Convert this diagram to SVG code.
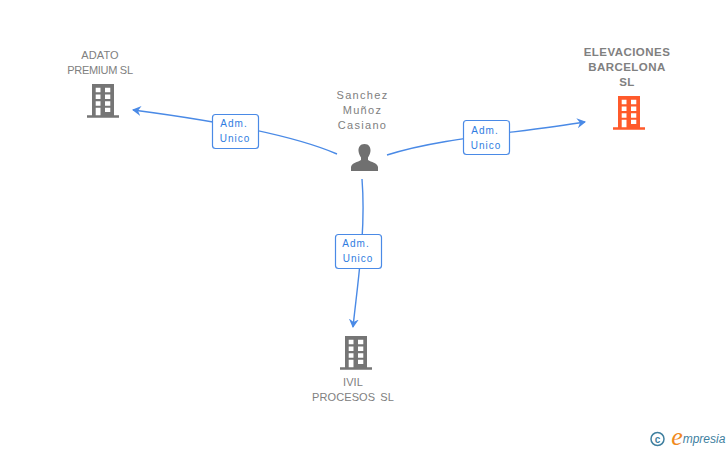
<svg xmlns="http://www.w3.org/2000/svg" width="728" height="450" viewBox="0 0 728 450">
<style>
text{font-family:"Liberation Sans",Arial,sans-serif;text-anchor:middle}
.n{font-size:11px;fill:#808080;letter-spacing:.1px}
.p{font-size:11px;fill:#808080;letter-spacing:1.3px}
.o{font-size:11.500px;font-weight:bold;fill:#808080;letter-spacing:.45px}
.e{font-size:10px;fill:#2f7de1;letter-spacing:1px}
.c{fill:none;stroke:#4a8ae6;stroke-width:1.400}
.b{fill:#fff;stroke:#4a8ae6;stroke-width:1.200}
</style>
<defs>
<marker id="a" markerWidth="12" markerHeight="12" refX="8" refY="5" orient="auto" markerUnits="userSpaceOnUse"><path d="M0 0L9 5L0 10L3 5Z" fill="#4a8ae6"/></marker>
<symbol id="bld" width="34" height="36" viewBox="0 0 34 36" overflow="visible">
<path fill-rule="evenodd" d="M5 0H27V31.300H32V33.700H0V31.300H5ZM8.700 3.700V8.300H13.500V3.700ZM18 3.700V8.300H23.300V3.700ZM8.700 10.500V15H13.500V10.500ZM18 10.500V15H23.300V10.500ZM8.700 17.300V21.700H13.500V17.300ZM18 17.300V21.700H23.300V17.300ZM8.700 23.700V31.300H13.500V23.700ZM18 23.700V28H23.300V23.700Z"/>
</symbol>
</defs>
<g id="connectors">
<path class="c" marker-end="url(#a)" d="M337 154C300 138 240 124 133 110"/>
<path class="c" marker-end="url(#a)" d="M387 155C440 138 510 134 585 122"/>
<path class="c" marker-end="url(#a)" d="M362 179C366 230 358 280 353 327"/>
</g>
<g id="edge-label-1"><rect class="b" x="212.500" y="114.500" width="46" height="34" rx="3"/><text class="e" x="234" y="127">Adm.</text><text class="e" x="235" y="142">Unico</text></g>
<g id="edge-label-2"><rect class="b" x="463.500" y="120.500" width="46" height="34" rx="3"/><text class="e" x="485" y="134">Adm.</text><text class="e" x="486" y="149">Unico</text></g>
<g id="edge-label-3"><rect class="b" x="335.500" y="234.500" width="46" height="34" rx="3"/><text class="e" x="356" y="247">Adm.</text><text class="e" x="358" y="262">Unico</text></g>
<g id="node-adato"><text class="n" x="100" y="59">ADATO</text><text class="n" x="100" y="74" style="letter-spacing:-.3px">PREMIUM SL</text><use href="#bld" x="87" y="84" fill="#757575"/></g>
<g id="node-elevaciones"><text class="o" x="627" y="56">ELEVACIONES</text><text class="o" x="627" y="71">BARCELONA</text><text class="o" x="627" y="86">SL</text><use href="#bld" x="613" y="96" fill="#ff5a2b"/></g>
<g id="node-ivil"><text class="n" x="353" y="386">IVIL</text><text class="n" x="353" y="401" style="letter-spacing:.1px;word-spacing:2px">PROCESOS SL</text><use href="#bld" x="340" y="336" fill="#757575"/></g>
<g id="node-person"><text class="p" x="362.500" y="99">Sanchez</text><text class="p" x="362.500" y="114">Muñoz</text><text class="p" x="362.500" y="129">Casiano</text>
<path fill="#707070" d="M364.500 144C360 144 358.200 147.500 358.500 151C358.800 154 360 156 361 157.500V160C358 162 351.500 163 351 167V171H378V167C377.500 163 371 162 368 160V157.500C369 156 370.200 154 370.500 151C370.800 147.500 369 144 364.500 144Z"/></g>
<g id="logo"><circle cx="657.500" cy="439" r="6.500" fill="none" stroke="#3f7f9f" stroke-width="1.500"/><text x="657.500" y="442.500" style="font-size:10px;font-weight:bold;fill:#3f7f9f">c</text><text x="677" y="445" style="font-family:'Liberation Serif',serif;font-size:26px;font-style:italic;fill:#f08a1d">e</text><text x="704" y="443" style="font-size:12px;font-style:italic;fill:#3f7f9f">mpresia</text></g>
</svg>
